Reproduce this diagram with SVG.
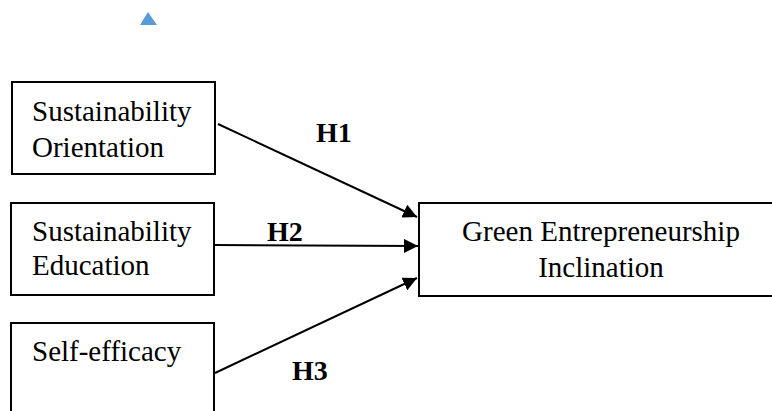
<svg xmlns="http://www.w3.org/2000/svg" width="772" height="411" viewBox="0 0 772 411">
<style>
.box{fill:#fff;stroke:#000;stroke-width:2}
.t{font-family:"Liberation Serif","Times New Roman",serif;font-size:29px;fill:#000}
.h{font-family:"Liberation Serif","Times New Roman",serif;font-size:28px;font-weight:bold;fill:#000}
.c{stroke:#000;stroke-width:2;fill:none;marker-end:url(#ah)}
</style>
<defs>
<marker id="ah" viewBox="0 0 10 10" refX="10" refY="5" markerWidth="7" markerHeight="7" orient="auto" markerUnits="strokeWidth">
<path d="M0,0 L10,5 L0,10 Z" fill="#000"/>
</marker>
</defs>
<rect width="772" height="411" fill="#fff"/>
<polygon points="148,12 140,25 157,25" fill="#5B9BD5"/>
<g id="n1">
<rect class="box" x="12" y="82" width="203" height="92"/>
<text class="t" x="32" y="121">Sustainability</text>
<text class="t" x="32" y="157">Orientation</text>
</g>
<g id="n2">
<rect class="box" x="11" y="203" width="203" height="92"/>
<text class="t" x="32" y="241">Sustainability</text>
<text class="t" x="32" y="275">Education</text>
</g>
<g id="n3">
<rect class="box" x="11" y="323" width="203" height="100"/>
<text class="t" x="32" y="361">Self-efficacy</text>
</g>
<g id="n4">
<rect class="box" x="419" y="203" width="360" height="93"/>
<text class="t" x="601" y="241" text-anchor="middle">Green Entrepreneurship</text>
<text class="t" x="601" y="277" text-anchor="middle">Inclination</text>
</g>
<g id="connectors">
<line class="c" x1="218" y1="124" x2="417" y2="217"/>
<line class="c" x1="215" y1="245" x2="418" y2="246"/>
<line class="c" x1="215" y1="373" x2="417" y2="278"/>
</g>
<g id="labels">
<text class="h" x="316" y="142">H1</text>
<text class="h" x="267" y="241">H2</text>
<text class="h" x="292" y="380">H3</text>
</g>
</svg>
